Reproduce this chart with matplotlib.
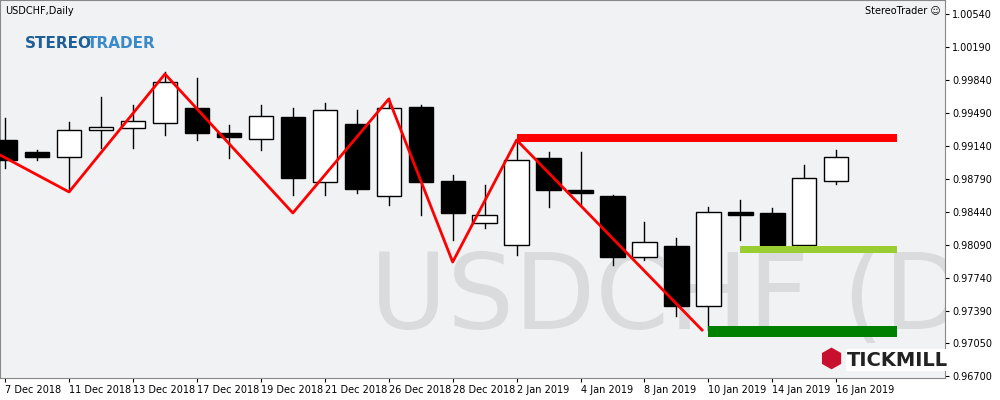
import matplotlib.pyplot as plt
from matplotlib.patches import Rectangle

# daily OHLC, USDCHF
dates = ["7 Dec 2018", "10 Dec", "11 Dec 2018", "12 Dec", "13 Dec 2018", "14 Dec",
         "17 Dec 2018", "18 Dec", "19 Dec 2018", "20 Dec", "21 Dec 2018", "24 Dec",
         "26 Dec 2018", "27 Dec", "28 Dec 2018", "31 Dec", "2 Jan 2019", "3 Jan",
         "4 Jan 2019", "7 Jan", "8 Jan 2019", "9 Jan", "10 Jan 2019", "11 Jan",
         "14 Jan 2019", "15 Jan", "16 Jan 2019"]
opens = [0.99203, 0.99076, 0.99023, 0.99309, 0.99330, 0.99383, 0.99542, 0.99277, 0.99214,
         0.99447, 0.98758, 0.99373, 0.98609, 0.99553, 0.98768, 0.98323, 0.98090, 0.99012,
         0.98673, 0.98609, 0.97962, 0.98079, 0.97443, 0.98440, 0.98429, 0.98090, 0.98768]
highs = [0.99436, 0.99097, 0.99394, 0.99659, 0.99574, 0.99924, 0.99861, 0.99362, 0.99574,
         0.99542, 0.99596, 0.99521, 0.99649, 0.99574, 0.98832, 0.98726, 0.99182, 0.99076,
         0.99076, 0.98620, 0.98333, 0.98164, 0.98493, 0.98567, 0.98482, 0.98938, 0.99097]
lows = [0.98906, 0.98991, 0.98673, 0.99118, 0.99118, 0.99256, 0.99203, 0.99012, 0.99097,
        0.98620, 0.98620, 0.98641, 0.98514, 0.98408, 0.98143, 0.98270, 0.97984, 0.98493,
        0.98514, 0.97877, 0.97931, 0.97337, 0.97188, 0.98143, 0.98037, 0.98037, 0.98737]
closes = [0.98991, 0.99023, 0.99309, 0.99341, 0.99405, 0.99818, 0.99277, 0.99235, 0.99458,
          0.98800, 0.99521, 0.98684, 0.99542, 0.98758, 0.98429, 0.98408, 0.98991, 0.98673,
          0.98641, 0.97962, 0.98121, 0.97443, 0.98440, 0.98408, 0.98090, 0.98800, 0.99023]

zz_x = [-0.16, 2, 5, 9, 12, 14, 16, 21.8]
zz_y = [0.99044, 0.98652, 0.99903, 0.98429, 0.99638, 0.97909, 0.99203, 0.97188]

# (start index, end index, low, high, colour)
zones = [(16, 27.9, 0.99182, 0.99267, "#ff0000"),
         (23, 27.9, 0.98005, 0.98079, "#9acd32"),
         (22, 27.9, 0.97114, 0.97231, "#008000")]

yticks = [1.00540, 1.00190, 0.99840, 0.99490, 0.99140, 0.98790, 0.98440,
          0.98090, 0.97740, 0.97390, 0.97050, 0.96700]

bg = "#f1f2f4"
fig = plt.figure(figsize=(10, 4), dpi=100, facecolor="white")
ax = fig.add_axes([0.0, 0.055, 0.945, 0.945])
ax.set_facecolor(bg)
ax.set_xlim(-0.16, 29.4)
ax.set_ylim(0.96679, 1.00688)

ax.text(11.4, 0.9720, "USDCHF (D1", fontsize=76, color="#dadbdd",
        ha="left", va="baseline", zorder=0, clip_on=True)

for i in range(len(opens)):
    o, h, l, c = opens[i], highs[i], lows[i], closes[i]
    ax.plot([i, i], [l, h], color="black", lw=1, zorder=2)
    bot, top = min(o, c), max(o, c)
    ax.add_patch(Rectangle((i - 0.38, bot), 0.76, max(top - bot, 0.00004),
                           facecolor="black" if c < o else "white",
                           edgecolor="black", lw=1, zorder=3))

for x0, x1, lo, hi, col in zones:
    ax.add_patch(Rectangle((x0, lo), x1 - x0, hi - lo, facecolor=col, edgecolor="none", zorder=4))

ax.plot(zz_x, zz_y, color="#ff0000", lw=2, zorder=5)

ax.yaxis.tick_right()
ax.set_yticks(yticks)
ax.set_yticklabels([f"{v:.5f}" for v in yticks], fontsize=7)
ax.set_xticks(range(0, len(dates), 2))
ax.set_xticklabels([dates[i] for i in range(0, len(dates), 2)], fontsize=7, ha="left")
ax.tick_params(axis="x", length=3, pad=2)
ax.tick_params(axis="y", length=3, pad=2)
for s in ax.spines.values():
    s.set_color("#888888")

ax.text(0.005, 0.985, "USDCHF,Daily", transform=ax.transAxes, fontsize=7, va="top")
ax.text(0.995, 0.985, "StereoTrader \u263a", transform=ax.transAxes, fontsize=7,
        va="top", ha="right")
ax.text(0.026, 0.885, "STEREO", transform=ax.transAxes, fontsize=11, fontweight="bold",
        color="#1f5f95", va="center")
ax.text(0.092, 0.885, "TRADER", transform=ax.transAxes, fontsize=11, fontweight="bold",
        color="#3a8ac8", va="center")
fig.text(0.948, 0.1, "TICKMILL", fontsize=14, fontweight="bold", color="#222222",
         ha="right", va="center", zorder=10,
         bbox=dict(facecolor="white", edgecolor="none", pad=1))
fig.text(0.842, 0.1, "\u2b22", fontsize=19, color="#c8102e", ha="right", va="center",
         zorder=10)

fig.savefig("out.png", facecolor="white")
